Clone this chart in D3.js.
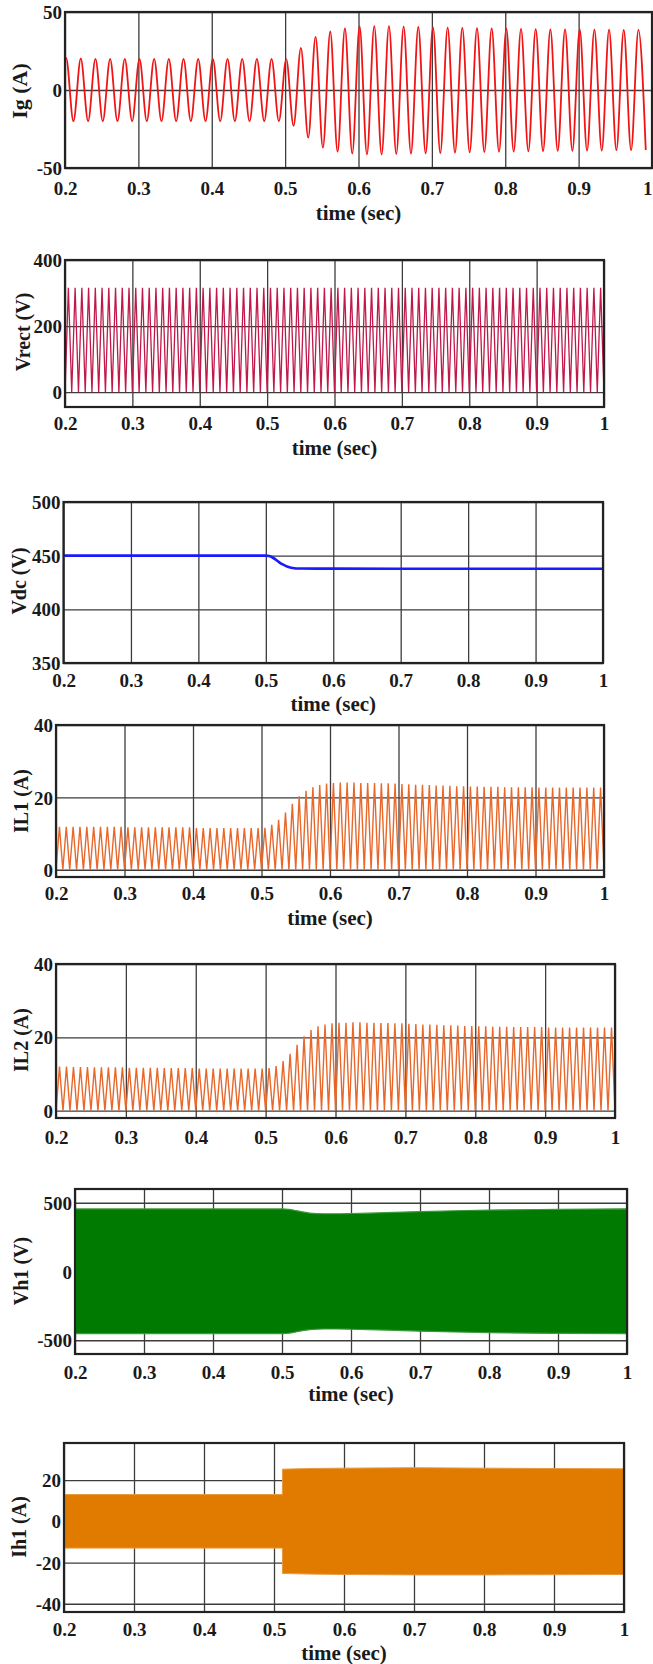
<!DOCTYPE html>
<html><head><meta charset="utf-8">
<script src="https://cdn.jsdelivr.net/npm/d3@7"></script>
<style>
html,body{margin:0;padding:0;background:#fff;}
svg{display:block;}
text{font-family:"Liberation Serif","Times New Roman",serif;font-weight:bold;fill:#1a1a1a;}
</style></head><body>
<svg id="chart" width="653" height="1664"></svg>
<script>
// ---------------- DATA ----------------
const timeTicks = [0.2, 0.3, 0.4, 0.5, 0.6, 0.7, 0.8, 0.9, 1];
const timeTickLabels = ["0.2", "0.3", "0.4", "0.5", "0.6", "0.7", "0.8", "0.9", "1"];

// Ig: positive peak / negative trough of each 50 Hz cycle (A)
const igPeriod = 0.02;
const igFirstPeak = 0.2015;
const igStart = 19.5;
const igPeaks = [20.5, 20.2, 20, 20, 20, 20, 20, 20, 20, 20, 20, 20, 20, 20, 20,
  19.8, 27, 34, 37.5, 39.5, 40.8, 41, 41, 40.6, 40.4, 40.2, 40, 39.8, 39.6, 39.5,
  39.3, 39.2, 39, 38.9, 38.8, 38.8, 38.7, 38.7, 38.6, 38.6];
const igTroughs = [-20, -20, -20, -20, -20, -20, -20, -20, -20, -20, -20, -20, -20, -20, -20,
  -23, -30.5, -37, -39.5, -40.8, -41.3, -41.3, -41, -40.8, -40.6, -40.4, -40.2, -40, -39.8, -39.6,
  -39.5, -39.3, -39.2, -39, -39, -38.8, -38.8, -38.6, -38.6, -38.5];

// Vrect: peak of each rectified half cycle (V), 100 Hz
const humpPeriod = 0.01;
const humpFirstZero = 0.2;
const vrectPeaks = [
  316, 316, 316, 316, 316, 316, 316, 316, 316, 316,
  316, 316, 316, 316, 316, 316, 316, 316, 316, 316,
  316, 316, 316, 316, 316, 316, 316, 316, 316, 316,
  316, 316, 316, 316, 316, 316, 316, 316, 316, 316,
  316, 316, 316, 316, 316, 316, 316, 316, 316, 316,
  316, 316, 316, 316, 316, 316, 316, 316, 316, 316,
  316, 316, 316, 316, 316, 316, 316, 316, 316, 316,
  316, 316, 316, 316, 316, 316, 316, 316, 316, 316];

// Vdc (V)
const vdcTimes = [0.2, 0.5, 0.505, 0.51, 0.515, 0.52, 0.525, 0.53, 0.535, 0.54, 0.55, 0.6, 0.7, 0.8, 0.9, 1.0];
const vdcValues = [450, 450, 449.6, 448.3, 446.2, 443.8, 441.8, 440.3, 439.2, 438.5, 438, 437.9, 437.8, 437.8, 437.8, 437.8];

// IL1 / IL2: peak of each 100 Hz hump (A)
const il1Peaks = [
  11.9, 11.9, 11.9, 11.9, 11.9, 11.9, 11.9, 11.9, 11.9, 11.9,
  11.7, 11.7, 11.7, 11.7, 11.7, 11.7, 11.7, 11.7, 11.7, 11.7,
  11.5, 11.5, 11.5, 11.5, 11.5, 11.5, 11.5, 11.5, 11.5, 11.5,
  11.6, 12.4, 13.8, 15.8, 18.2, 20.3, 21.8, 22.8, 23.4, 23.8,
  24, 24.1, 24.1, 24.1, 24, 24, 24, 23.9, 23.9, 23.8,
  23.7, 23.6, 23.5, 23.5, 23.4, 23.3, 23.3, 23.2, 23.1, 23.1,
  23, 23, 22.9, 22.9, 22.9, 22.8, 22.8, 22.8, 22.8, 22.8,
  22.7, 22.7, 22.7, 22.7, 22.7, 22.7, 22.7, 22.7, 22.7, 22.7];
const il2Peaks = [
  12, 12, 11.9, 11.9, 11.9, 11.8, 11.8, 11.8, 11.8, 11.8,
  11.7, 11.7, 11.7, 11.7, 11.7, 11.6, 11.6, 11.6, 11.6, 11.6,
  11.5, 11.5, 11.5, 11.5, 11.5, 11.5, 11.5, 11.5, 11.5, 11.5,
  11.6, 12.2, 13.5, 15.5, 18, 20.3, 22, 23, 23.5, 23.8,
  24, 24, 24.1, 24.1, 24, 24, 23.9, 23.9, 23.8, 23.8,
  23.7, 23.6, 23.5, 23.5, 23.4, 23.3, 23.3, 23.2, 23.1, 23.1,
  23, 23, 22.9, 22.9, 22.9, 22.8, 22.8, 22.8, 22.8, 22.8,
  22.7, 22.7, 22.7, 22.7, 22.7, 22.7, 22.7, 22.7, 22.7, 22.7];

// Vh1: envelope of the switching voltage (V)
const vh1Times = [0.2, 0.5, 0.51, 0.52, 0.53, 0.54, 0.56, 0.58, 0.6, 0.65, 0.7, 0.75, 0.8, 0.9, 1.0];
const vh1Upper = [455, 455, 452, 443, 433, 425, 420, 420, 422, 428, 436, 442, 447, 452, 456];
const vh1Lower = [-452, -452, -449, -440, -430, -423, -418, -418, -420, -426, -434, -440, -445, -450, -452];

// Ih1: envelope of the high-frequency current (A)
const ih1Times = [0.2, 0.512, 0.5121, 0.55, 0.6, 0.7, 0.8, 0.9, 1.0];
const ih1Upper = [13, 13, 25.3, 25.6, 25.8, 26, 25.8, 25.6, 25.5];
const ih1Lower = [-13, -13, -25.3, -25.6, -25.8, -26, -26, -25.9, -25.8];

// ---------------- DRAWING ----------------
const svg = d3.select("#chart");
const W = 653;
const TICK_FONT = 19, XLAB_FONT = 21, YLAB_FONT = 20;

function panel(cfg, drawData) {
  const g = svg.append("g");
  const x = d3.scaleLinear().domain([0.2, 1]).range([cfg.L, cfg.R]);
  const y = d3.scaleLinear().domain(cfg.yDomain).range([cfg.B, cfg.T]);
  const id = "clip" + cfg.id;
  svg.append("clipPath").attr("id", id).append("rect")
    .attr("x", cfg.L).attr("y", cfg.T).attr("width", cfg.R - cfg.L).attr("height", cfg.B - cfg.T);

  // grid
  const gx = g.append("g").attr("transform", `translate(0,${cfg.B})`)
    .call(d3.axisBottom(x).tickValues(timeTicks).tickSize(-(cfg.B - cfg.T)).tickFormat(""));
  gx.select(".domain").remove();
  gx.selectAll("line").attr("stroke", "#3c3c3c").attr("stroke-width", 1.3);
  const gy = g.append("g").attr("transform", `translate(${cfg.L},0)`)
    .call(d3.axisLeft(y).tickValues(cfg.yTicks).tickSize(-(cfg.R - cfg.L)).tickFormat(""));
  gy.select(".domain").remove();
  gy.selectAll("line").attr("stroke", "#3c3c3c").attr("stroke-width", 1.3);

  const dg = g.append("g").attr("clip-path", `url(#${id})`);
  drawData(dg, x, y);

  // frame
  g.append("rect").attr("x", cfg.L).attr("y", cfg.T).attr("width", cfg.R - cfg.L).attr("height", cfg.B - cfg.T)
    .attr("fill", "none").attr("stroke", "#222").attr("stroke-width", 2.2);

  // tick labels
  const ax = g.append("g").attr("transform", `translate(0,${cfg.B})`)
    .call(d3.axisBottom(x).tickValues(timeTicks).tickSize(0).tickFormat((d, i) => timeTickLabels[i]));
  ax.select(".domain").remove();
  ax.selectAll("text").attr("y", cfg.tickY - cfg.B).attr("dy", "0.35em")
    .style("font-size", TICK_FONT + "px").attr("fill", "#1a1a1a");
  // keep the last label inside the page when the axis reaches the right edge
  ax.selectAll(".tick").each(function(d) {
    if (x(d) + 6 > W) d3.select(this).select("text").attr("text-anchor", "end").attr("x", W - 1 - x(d));
  });
  const ay = g.append("g").attr("transform", `translate(${cfg.L},0)`)
    .call(d3.axisLeft(y).tickValues(cfg.yTicks).tickSize(0).tickPadding(3).tickFormat(d => String(d)));
  ay.select(".domain").remove();
  ay.selectAll("text").attr("dy", "0.35em").style("font-size", TICK_FONT + "px").attr("fill", "#1a1a1a");

  if (cfg.xLabelY) {
    g.append("text").attr("x", (cfg.L + cfg.R) / 2).attr("y", cfg.xLabelY).attr("dy", "0.35em")
      .attr("text-anchor", "middle").style("font-size", XLAB_FONT + "px").text("time (sec)");
  }
  g.append("text").attr("transform", `translate(${cfg.yLabelX},${cfg.yLabelY}) rotate(-90)`)
    .attr("dy", "0.35em").attr("text-anchor", "middle").style("font-size", (cfg.yLabFont || YLAB_FONT) + "px")
    .text(cfg.yLabel);
}

// Panel 1: Ig
panel({id: 1, L: 65, R: 652, T: 12, B: 168, yDomain: [-50, 50], yTicks: [-50, 0, 50],
  tickY: 188, xLabelY: 213, yLabel: "Ig (A)", yLabelX: 19, yLabelY: 91, yLabFont: 22},
  (g, x, y) => {
    const pts = [[0.2, igStart]];
    igPeaks.forEach((p, k) => {
      pts.push([igFirstPeak + k * igPeriod, p]);
      pts.push([igFirstPeak + k * igPeriod + igPeriod / 2, igTroughs[k]]);
    });
    g.append("path").datum(pts)
      .attr("d", d3.line().x(d => x(d[0])).y(d => y(d[1])).curve(d3.curveMonotoneX))
      .attr("fill", "none").attr("stroke", "#f01414").attr("stroke-width", 1.8);
  });

function humpPoints(peaks) {
  const pts = [[humpFirstZero, 0]];
  peaks.forEach((p, j) => {
    pts.push([humpFirstZero + j * humpPeriod + humpPeriod / 2, p]);
    pts.push([humpFirstZero + (j + 1) * humpPeriod, 0]);
  });
  return pts;
}

// Panel 2: Vrect
panel({id: 2, L: 65, R: 604, T: 260, B: 407, yDomain: [-45, 400], yTicks: [0, 200, 400],
  tickY: 423, xLabelY: 448, yLabel: "Vrect (V)", yLabelX: 23, yLabelY: 332},
  (g, x, y) => {
    g.append("path").datum(humpPoints(vrectPeaks))
      .attr("d", d3.line().x(d => x(d[0])).y(d => y(d[1])))
      .attr("fill", "none").attr("stroke", "#c0184a").attr("stroke-width", 1.3);
  });

// Panel 3: Vdc
panel({id: 3, L: 63.5, R: 603, T: 502, B: 663, yDomain: [350, 500], yTicks: [350, 400, 450, 500],
  tickY: 680, xLabelY: 704, yLabel: "Vdc (V)", yLabelX: 19, yLabelY: 581},
  (g, x, y) => {
    g.append("path").datum(vdcTimes.map((t, i) => [t, vdcValues[i]]))
      .attr("d", d3.line().x(d => x(d[0])).y(d => y(d[1])).curve(d3.curveMonotoneX))
      .attr("fill", "none").attr("stroke", "#1a1aff").attr("stroke-width", 2.6);
  });

// Panel 4: IL1
panel({id: 4, L: 56, R: 604, T: 725, B: 877, yDomain: [-2, 40], yTicks: [0, 20, 40],
  tickY: 893, xLabelY: 918, yLabel: "IL1 (A)", yLabelX: 21, yLabelY: 801},
  (g, x, y) => {
    g.append("path").datum(humpPoints(il1Peaks))
      .attr("d", d3.line().x(d => x(d[0])).y(d => y(d[1])))
      .attr("fill", "none").attr("stroke", "#e8682c").attr("stroke-width", 1.4);
  });

// Panel 5: IL2
panel({id: 5, L: 56, R: 615, T: 964, B: 1118, yDomain: [-2, 40], yTicks: [0, 20, 40],
  tickY: 1137, xLabelY: null, yLabel: "IL2 (A)", yLabelX: 21, yLabelY: 1040},
  (g, x, y) => {
    g.append("path").datum(humpPoints(il2Peaks))
      .attr("d", d3.line().x(d => x(d[0])).y(d => y(d[1])))
      .attr("fill", "none").attr("stroke", "#e8682c").attr("stroke-width", 1.4);
  });

// Panel 6: Vh1
panel({id: 6, L: 75, R: 627, T: 1189, B: 1354, yDomain: [-600, 600], yTicks: [-500, 0, 500],
  tickY: 1372, xLabelY: 1394, yLabel: "Vh1 (V)", yLabelX: 21, yLabelY: 1271},
  (g, x, y) => {
    g.append("path").datum(vh1Times.map((t, i) => [t, vh1Upper[i], vh1Lower[i]]))
      .attr("d", d3.area().x(d => x(d[0])).y0(d => y(d[2])).y1(d => y(d[1])).curve(d3.curveMonotoneX))
      .attr("fill", "#007a00").attr("stroke", "#3c9a3c").attr("stroke-width", 1.2);
  });

// Panel 7: Ih1
panel({id: 7, L: 64, R: 624, T: 1443, B: 1612, yDomain: [-44, 38], yTicks: [-40, -20, 0, 20],
  tickY: 1629, xLabelY: 1653, yLabel: "Ih1 (A)", yLabelX: 19, yLabelY: 1527},
  (g, x, y) => {
    g.append("path").datum(ih1Times.map((t, i) => [t, ih1Upper[i], ih1Lower[i]]))
      .attr("d", d3.area().x(d => x(d[0])).y0(d => y(d[2])).y1(d => y(d[1])))
      .attr("fill", "#e07b00").attr("stroke", "#e89a40").attr("stroke-width", 1);
  });
</script>
</body></html>
